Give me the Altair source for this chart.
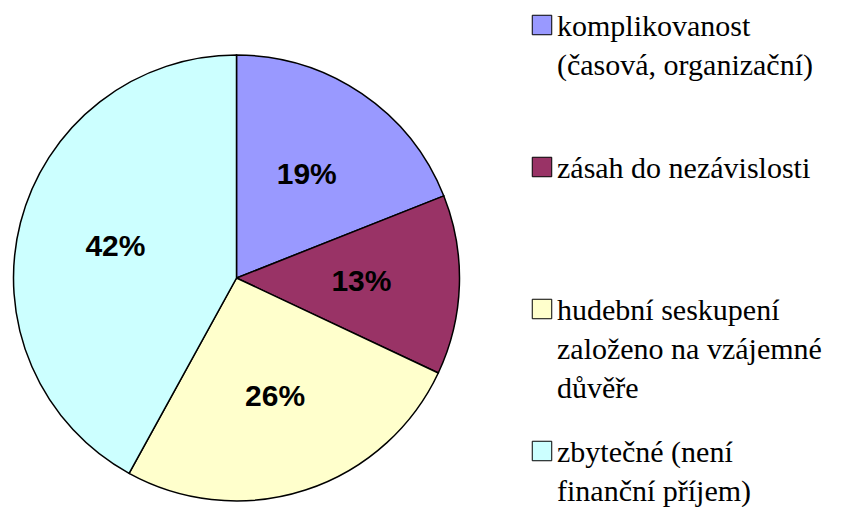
import altair as alt
import pandas as pd

categories = [
    "komplikovanost (časová, organizační)",
    "zásah do nezávislosti",
    "hudební seskupení založeno na vzájemné důvěře",
    "zbytečné (není finanční příjem)",
]
legend_lines = [
    "komplikovanost\n(časová, organizační)",
    "zásah do nezávislosti",
    "hudební seskupení\nzaloženo na vzájemné\ndůvěře",
    "zbytečné (není\nfinanční příjem)",
]
values = [19, 13, 26, 42]
colors = ["#9999FF", "#993366", "#FFFFCC", "#CCFFFF"]

df = pd.DataFrame({
    "cat": categories,
    "legend": legend_lines,
    "value": values,
    "order": list(range(len(categories))),
})
df["label"] = df["value"].astype(str) + "%"

base = alt.Chart(df)
color = alt.Color("cat:N", scale=alt.Scale(domain=categories, range=colors), legend=None)
ylegend = alt.Y("cat:N", scale=alt.Scale(type="point", domain=categories, range=[4, 430], padding=0), axis=None)

pie = base.mark_arc(outerRadius=223, stroke="black", strokeWidth=1.5).encode(
    theta=alt.Theta("value:Q", stack=True),
    color=color,
    order=alt.Order("order:Q"),
    x=alt.value(228.5),
    y=alt.value(270),
)

pie_labels = base.mark_text(
    radius=125, font="Liberation Sans", fontSize=30, fontWeight="bold", color="black"
).encode(
    theta=alt.Theta("value:Q", stack=True),
    order=alt.Order("order:Q"),
    text="label:N",
    x=alt.value(228.5),
    y=alt.value(270),
)

legend_sq = base.mark_square(size=380, stroke="black", strokeWidth=1, opacity=1, yOffset=13).encode(
    x=alt.value(534),
    y=ylegend,
    color=color,
)

legend_txt = base.mark_text(
    align="left", baseline="top", font="'Liberation Serif', 'DejaVu Serif', 'Times New Roman', serif",
    fontSize=30, lineBreak="\n", lineHeight=39, color="black"
).encode(
    x=alt.value(549),
    y=ylegend,
    text="legend:N",
)

chart = alt.layer(pie, pie_labels, legend_sq, legend_txt).properties(
    width=833, height=499, padding=0, background="white"
).configure_view(stroke=None)

chart.save("out.html", embed_options={"renderer": "svg", "actions": False})
